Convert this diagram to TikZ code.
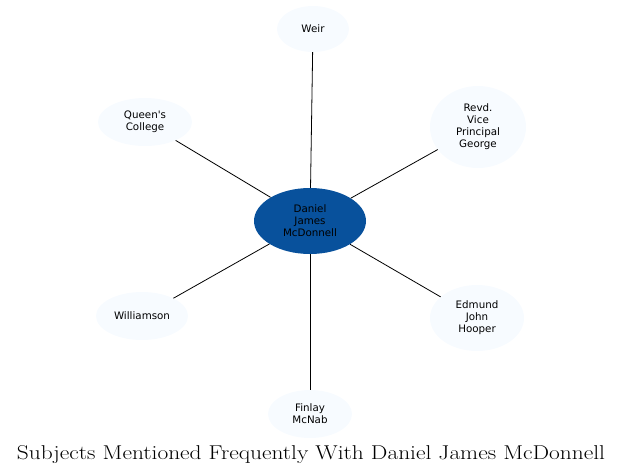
\documentclass[tikz,border=0pt]{standalone}
\usepackage{fontspec}
\newfontfamily\labelfont{DejaVu Sans}
\definecolor{hubblue}{HTML}{08519C}
\definecolor{leafblue}{HTML}{F7FBFF}
\tikzset{
  leaf/.style={ellipse, fill=leafblue, draw=none, inner sep=0pt, align=center,
    font=\labelfont\fontsize{10.3}{12}\selectfont},
  hub/.style={ellipse, fill=hubblue, draw=none, inner sep=0pt, align=center,
    font=\labelfont\fontsize{10.3}{12}\selectfont},
  link/.style={draw=black, line width=0.8pt}
}
\usetikzlibrary{shapes.geometric}
\begin{document}
\begin{tikzpicture}[x=1pt,y=-1pt]
\useasboundingbox (0,0) rectangle (623,475);
\node[hub, minimum width=112pt, minimum height=66pt] (c) at (310,221) {Daniel\\James\\McDonnell};
\node[leaf, minimum width=72pt, minimum height=46pt] (weir) at (313,29) {Weir};
\node[leaf, minimum width=94pt, minimum height=48pt] (qc) at (145,122) {Queen's\\College};
\node[leaf, minimum width=96pt, minimum height=82pt] (rv) at (478,127) {Revd.\\Vice\\Principal\\George};
\node[leaf, minimum width=92pt, minimum height=48pt] (wi) at (142,316) {Williamson};
\node[leaf, minimum width=94pt, minimum height=66pt] (ej) at (477,318) {Edmund\\John\\Hooper};
\node[leaf, minimum width=84pt, minimum height=48pt] (fm) at (310,414) {Finlay\\McNab};
\foreach \n in {weir,qc,rv,wi,ej,fm} \draw[link] (c) -- (\n);
\node[anchor=base] (title) at (311,459) {\scalebox{1.17}[1]{\fontsize{20}{23}\selectfont Subjects Mentioned Frequently With Daniel James McDonnell}};
\end{tikzpicture}
\end{document}
